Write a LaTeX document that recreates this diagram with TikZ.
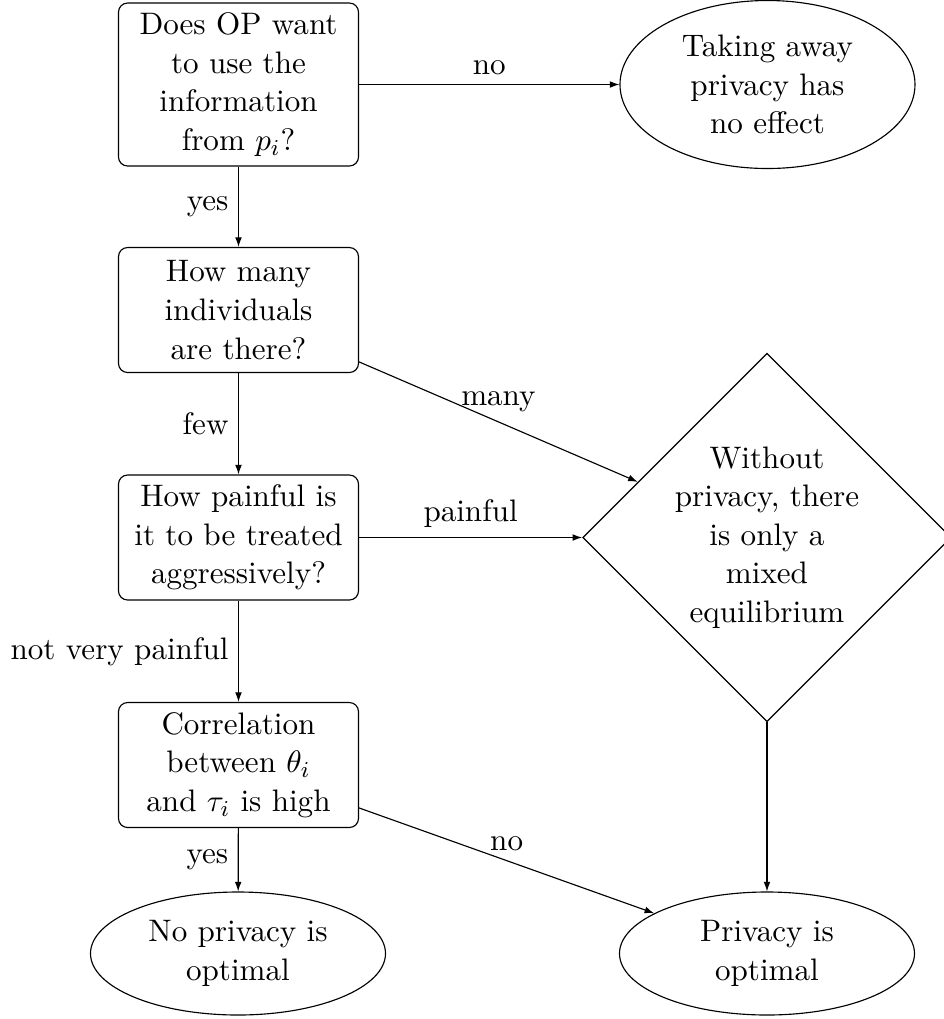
\documentclass[tikz,border=0pt]{standalone}
\usetikzlibrary{shapes.geometric,arrows.meta}
\begin{document}
\begin{tikzpicture}[x=0.3521pt,y=-0.3521pt,
  font=\fontsize{10.95}{13.6}\selectfont,
  qbox/.style={draw,rounded corners=3.2pt,align=center,inner sep=0pt,
    minimum width=240*0.3521pt,minimum height=125*0.3521pt},
  endell/.style={draw,ellipse,align=center,inner sep=0pt,
    minimum width=295*0.3521pt,minimum height=123*0.3521pt},
  dia/.style={draw,diamond,align=center,inner sep=0pt,aspect=1,
    minimum width=368.5*0.3521pt,minimum height=368.5*0.3521pt},
  arr/.style={-{Latex[length=3.4pt,width=2.4pt]}}]
\useasboundingbox (0,0) rectangle (944,1019);
\node[qbox,minimum height=163*0.3521pt] (b1) at (238.5,84.5) {Does OP want\\to use the\\information\\from $p_i$?};
\node[qbox] (b2) at (238.5,310) {How many\\individuals\\are there?};
\node[qbox] (b3) at (238.5,537.5) {How painful is\\it to be treated\\aggressively?};
\node[qbox] (b4) at (238.5,765) {Correlation\\between $\theta_i$\\and $\tau_i$ is high};
\node[endell,minimum height=168*0.3521pt] (e1) at (767.5,84.5) {Taking away\\privacy has\\no effect};
\node[dia] (d) at (767,537.5) {Without\\privacy, there\\is only a\\mixed\\equilibrium};
\node[endell] (e2) at (238,953.5) {No privacy is\\optimal};
\node[endell] (e3) at (767,953.5) {Privacy is\\optimal};
\draw[arr] (b1) -- node[above] (l1) {no} (e1);
\draw[arr] (b1) -- node[left] (l2) {yes} (b2);
\draw[arr] (b2) -- node[left] (l3) {few} (b3);
\draw[arr] (b2) -- node[above] (l4) {many} (d);
\draw[arr] (b3) -- node[above] (l5) {painful} (d);
\draw[arr] (b3) -- node[left] (l6) {not very painful} (b4);
\draw[arr] (b4) -- node[left] (l7) {yes} (e2);
\draw[arr] (b4) -- node[above] (l8) {no} (e3);
\draw[arr] (d) -- (e3);
\end{tikzpicture}
\end{document}
